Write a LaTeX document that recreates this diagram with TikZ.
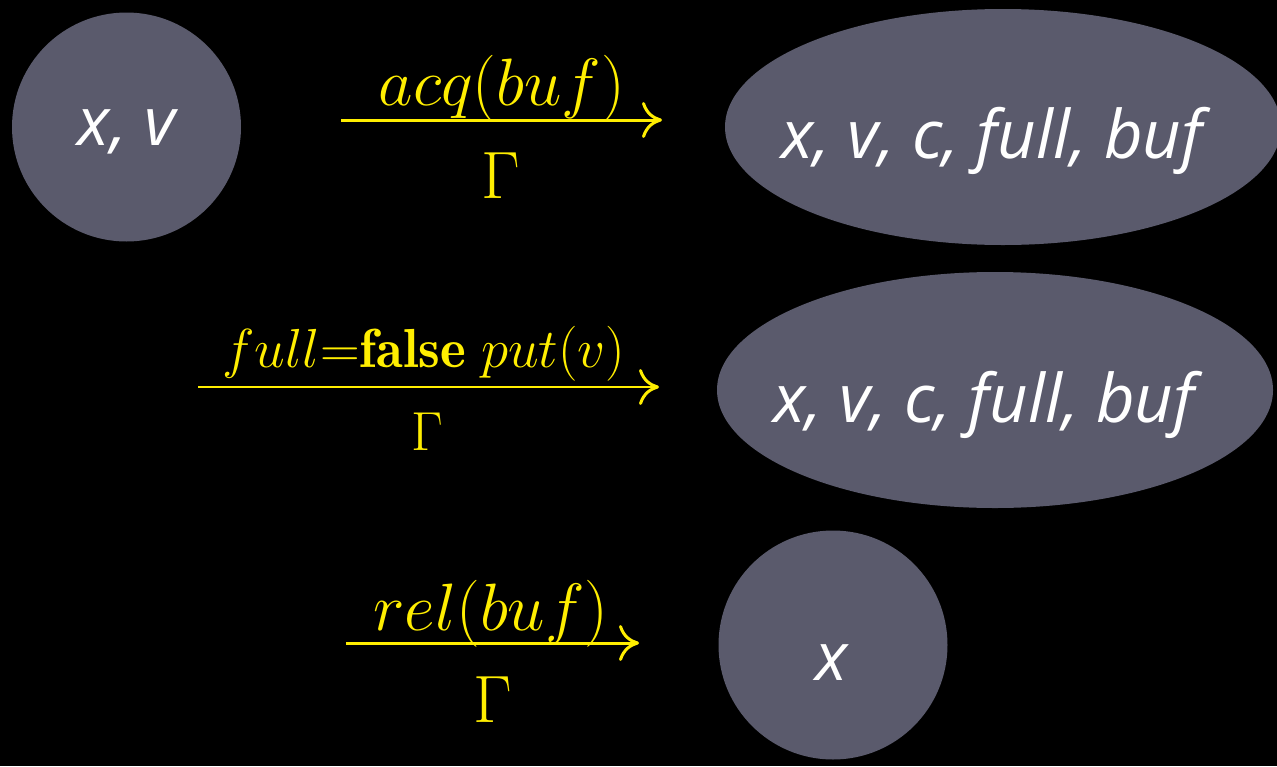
\RequirePackage{fix-cm}
\documentclass[tikz,border=0pt]{standalone}
\usepackage{fontspec}
\setsansfont{Open Sans}
\usetikzlibrary{arrows.meta,shapes.geometric}
\definecolor{blob}{RGB}{90,90,108}
\definecolor{lbl}{RGB}{255,238,0}
\tikzset{
  blobc/.style={circle,fill=blob,inner sep=0pt,minimum size=229pt},
  blobe/.style={ellipse,fill=blob,inner sep=0pt,minimum width=556pt,minimum height=236pt},
  vars/.style={text=white,font=\fontsize{67}{80}\selectfont\sffamily\itshape,inner sep=0pt,anchor=base},
  trans/.style={draw=lbl,line width=3pt,-{Computer Modern Rightarrow[length=20pt,width=36pt,line width=3pt]}},
  mlab/.style={text=lbl,inner sep=0pt,anchor=base},
  big/.style={font=\fontsize{67}{70}\selectfont},
  mid/.style={font=\fontsize{55}{60}\selectfont},
}
\begin{document}
\begin{tikzpicture}[x=1pt,y=1pt]
\fill[black] (0,0) rectangle (1277,-766);
\useasboundingbox (0,0) rectangle (1277,-766);
\clip (0,0) rectangle (1277,-766);
% shapes
\node[blobc] (s1) at (126.5,-127) {};
\node[blobe] (s2) at (1003,-127) {};
\node[blobe] (s3) at (995,-390) {};
\node[blobc] (s4) at (833,-645) {};
% texts
\node[vars] (t1) at (126.5,-145) {x, v};
\node[vars] (t2) at (992,-158) {x, v, c, full, buf};
\node[vars] (t3) at (984,-422) {x, v, c, full, buf};
\node[vars] (t4) at (832,-680) {x};
% arrows
\coordinate (a1s) at (341,-120);
\coordinate (a1e) at (662,-120);
\draw[trans] (a1s) -- (a1e);
\node[mlab,big] (l1) at (502,-105) {$acq(buf)$};
\node[mlab,big] (g1) at (501,-198) {$\Gamma$};
\coordinate (a2s) at (198,-387);
\coordinate (a2e) at (659,-387);
\draw[trans,line width=2.8pt] (a2s) -- (a2e);
\node[mlab,mid] (l2) at (424,-367) {$full{=}\mathbf{false}\; put(v)$};
\node[mlab,mid] (g2) at (427,-450) {$\Gamma$};
\coordinate (a3s) at (346,-643);
\coordinate (a3e) at (639,-643);
\draw[trans] (a3s) -- (a3e);
\node[mlab,big] (l3) at (491,-630) {$rel(buf)$};
\node[mlab,big] (g3) at (493,-722) {$\Gamma$};
\end{tikzpicture}
\end{document}
